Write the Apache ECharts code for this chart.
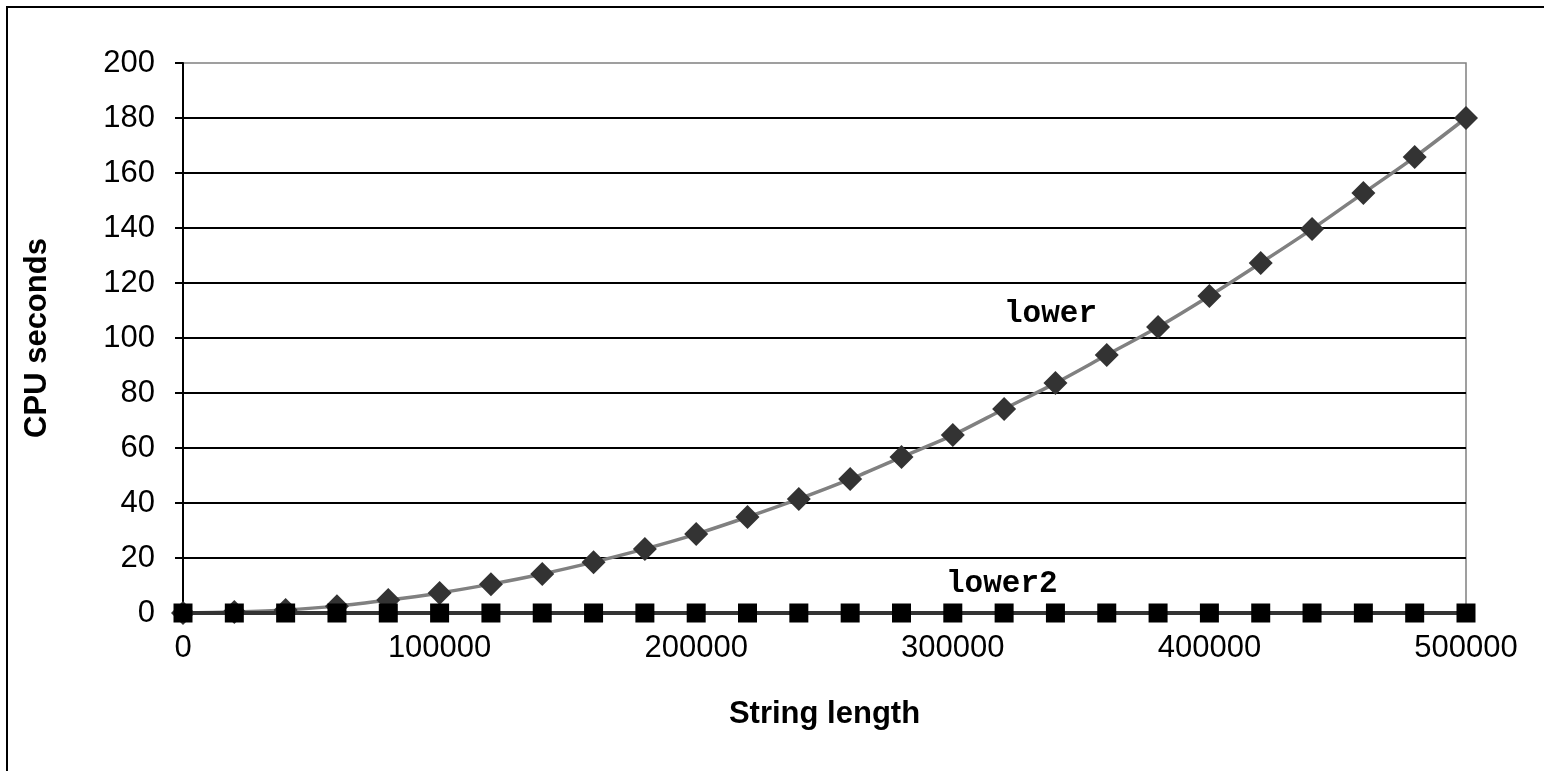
<!DOCTYPE html>
<html>
<head>
<meta charset="utf-8">
<script src="https://cdn.jsdelivr.net/npm/echarts@6/dist/echarts.min.js"></script>
<style>html,body{margin:0;padding:0;background:#fff;}#c{width:1544px;height:771px;}</style>
</head>
<body>
<div id="c"></div>
<script>
const stringLengths = [0,20000,40000,60000,80000,100000,120000,140000,160000,180000,200000,220000,240000,260000,280000,300000,320000,340000,360000,380000,400000,420000,440000,460000,480000,500000];
const lowerValues = [0,0.4,1.1,2.5,4.7,7.3,10.5,14.2,18.5,23.3,28.7,34.9,41.5,48.7,56.7,64.7,74.2,83.6,93.8,104,115.3,127.3,139.6,152.7,165.8,180];
const lower2Values = [0,0,0,0,0,0,0,0,0,0,0,0,0,0,0,0,0,0,0,0,0,0,0,0,0,0];
const yTicks = {min:0, max:200, interval:20};
const xTicks = {min:0, max:500000, interval:100000};

const chart = echarts.init(document.getElementById('c'));
chart.setOption({
  animation:false,
  backgroundColor:'#fff',
  grid:{left:183, right:78, top:63, bottom:158, show:true, borderColor:'#808080', borderWidth:1.5, backgroundColor:'transparent'},
  graphic:[
    {type:'rect', shape:{x:7, y:7, width:1560, height:800}, style:{fill:'none', stroke:'#000', lineWidth:2}, z:-1},
    {type:'text', left:1004, top:299, style:{text:'lower', font:'bold 31px "Liberation Mono", "Courier New", monospace', fill:'#000'}, z:10},
    {type:'text', left:946, top:569, style:{text:'lower2', font:'bold 31px "Liberation Mono", "Courier New", monospace', fill:'#000'}, z:10}
  ],
  xAxis:{
    type:'value', min:xTicks.min, max:xTicks.max, interval:xTicks.interval,
    name:'String length', nameLocation:'middle', nameGap:86,
    nameTextStyle:{fontFamily:'Liberation Sans, Arial', fontWeight:'bold', fontSize:31, color:'#000'},
    axisLine:{show:true, lineStyle:{color:'#000', width:2}},
    axisTick:{show:true, length:7, lineStyle:{color:'#000', width:2}},
    axisLabel:{fontFamily:'Liberation Sans, Arial', fontSize:31, color:'#000', margin:20, formatter:v=>String(v)},
    splitLine:{show:false}
  },
  yAxis:{
    type:'value', min:yTicks.min, max:yTicks.max, interval:yTicks.interval,
    name:'CPU seconds', nameLocation:'middle', nameGap:130, nameRotate:90,
    nameTextStyle:{fontFamily:'Liberation Sans, Arial', fontWeight:'bold', fontSize:31, color:'#000'},
    axisLine:{show:true, lineStyle:{color:'#000', width:2}},
    axisTick:{show:true, length:8, lineStyle:{color:'#000', width:2}},
    axisLabel:{fontFamily:'Liberation Sans, Arial', fontSize:31, color:'#000', margin:28},
    splitLine:{show:true, showMaxLine:false, lineStyle:{color:'#000', width:2}}
  },
  series:[
    {
      name:'lower', type:'line', smooth:0.3,
      data:stringLengths.map((x,i)=>[x, lowerValues[i]]),
      symbol:'diamond', symbolSize:24,
      lineStyle:{color:'#808080', width:3.5},
      itemStyle:{color:'#333333'},
      z:3
    },
    {
      name:'lower2', type:'line',
      data:stringLengths.map((x,i)=>[x, lower2Values[i]]),
      symbol:'rect', symbolSize:19,
      lineStyle:{color:'#333333', width:4},
      itemStyle:{color:'#000000'},
      z:4
    }
  ]
});
</script>
</body>
</html>
